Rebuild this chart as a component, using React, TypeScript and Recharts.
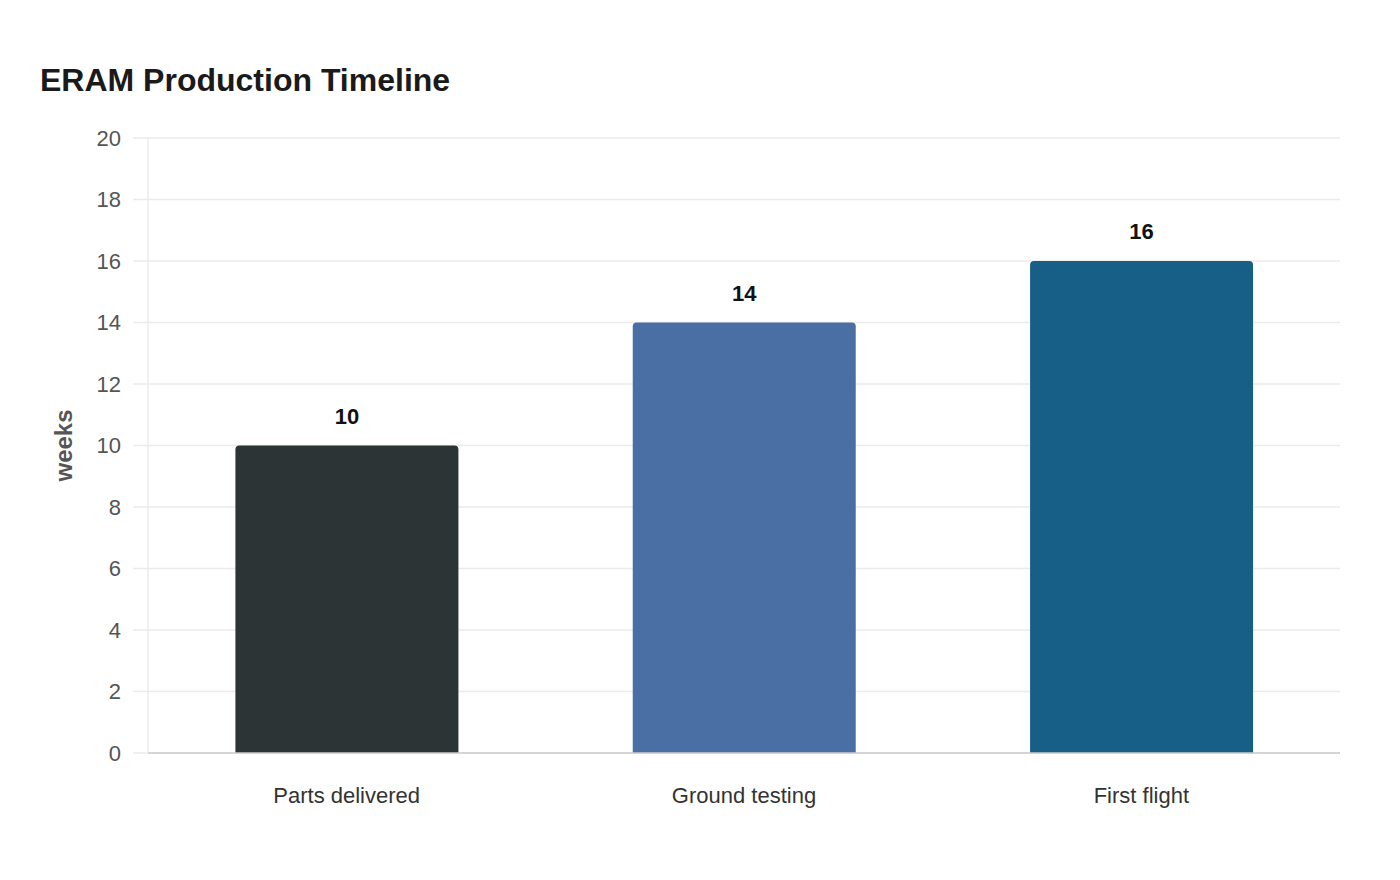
import React from "react";
import { BarChart, Bar, XAxis, YAxis, CartesianGrid, Cell, LabelList } from "recharts";

const stages = ["Parts delivered", "Ground testing", "First flight"];
const weeks = [10, 14, 16];
const barColors = ["#2d3436", "#4a6fa5", "#175f87"];
const yTicks = [0, 2, 4, 6, 8, 10, 12, 14, 16, 18, 20];

const data = stages.map((stage, i) => ({ stage, weeks: weeks[i] }));

const font = "'Liberation Sans', Arial, sans-serif";

function WeeksLabel(props: any) {
  const { viewBox } = props;
  const cx = 63;
  const cy = viewBox.y + viewBox.height / 2;
  return (
    <text
      x={cx}
      y={cy}
      transform={`rotate(-90, ${cx}, ${cy})`}
      textAnchor="middle"
      dominantBaseline="central"
      fill="#555"
      fontSize={24}
      fontWeight="bold"
      fontFamily={font}
    >
      weeks
    </text>
  );
}

export default function App() {
  return (
    <div
      style={{
        position: "absolute",
        left: 0,
        top: 0,
        width: 1400,
        height: 880,
        background: "#fff",
        fontFamily: font,
      }}
    >
      <div
        style={{
          position: "absolute",
          left: 40,
          top: 63,
          fontSize: 32,
          lineHeight: "34px",
          fontWeight: "bold",
          color: "#1a1a1a",
        }}
      >
        ERAM Production Timeline
      </div>
      <BarChart
        width={1400}
        height={880}
        data={data}
        margin={{ top: 138, right: 60, bottom: 0, left: 0 }}
        barCategoryGap="22%"
      >
        <CartesianGrid vertical={false} stroke="#ebebeb" strokeWidth={1.5} />
        <XAxis
          dataKey="stage"
          tickLine={false}
          axisLine={{ stroke: "#cccccc", strokeWidth: 1.5 }}
          tickMargin={28}
          tick={{ fill: "#333", fontSize: 22, fontFamily: font }}
          height={127}
        />
        <YAxis
          width={148}
          domain={[0, 20]}
          ticks={yTicks}
          interval={0}
          tickSize={15}
          tickMargin={12}
          tickLine={{ stroke: "#ebebeb", strokeWidth: 1.5 }}
          axisLine={{ stroke: "#e2e2e2" }}
          tick={{ fill: "#555", fontSize: 22, fontFamily: font }}
          label={<WeeksLabel />}
        />
        <Bar dataKey="weeks" radius={[4, 4, 0, 0]} isAnimationActive={false}>
          {data.map((d, i) => (
            <Cell key={d.stage} fill={barColors[i]} />
          ))}
          <LabelList
            dataKey="weeks"
            position="top"
            offset={22}
            fill="#111"
            fontSize={22}
            fontWeight="bold"
            fontFamily={font}
          />
        </Bar>
      </BarChart>
    </div>
  );
}
